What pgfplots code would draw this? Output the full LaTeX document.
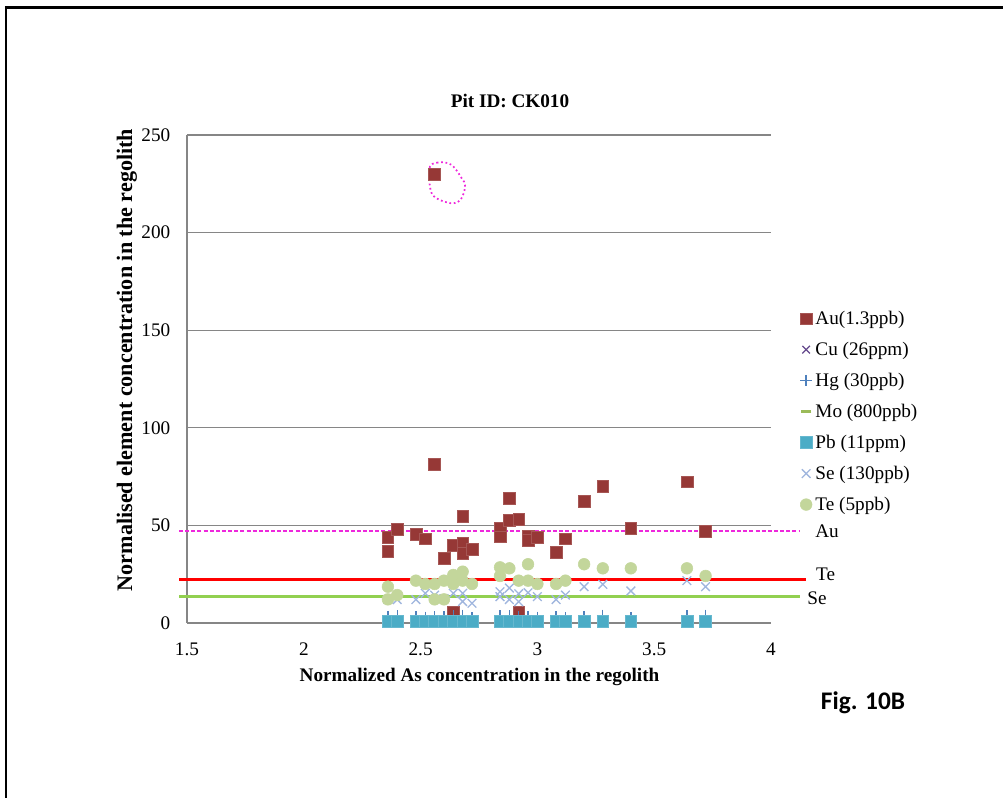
\documentclass[border=0pt]{standalone}
\usepackage{pgfplots}
\pgfplotsset{compat=1.18}
\usepackage{fontspec}
\setmainfont{Liberation Serif}
\newfontfamily\calibri{Carlito}
\definecolor{auc}{RGB}{150,56,54}
\definecolor{cuc}{RGB}{100,72,140}
\definecolor{hgc}{RGB}{79,129,189}
\definecolor{moc}{RGB}{155,187,89}
\definecolor{pbc}{RGB}{75,172,198}
\definecolor{sec}{RGB}{160,182,222}
\definecolor{tec}{RGB}{195,214,155}
\definecolor{gridc}{RGB}{134,134,134}
\definecolor{magc}{RGB}{238,40,220}
\definecolor{greenline}{RGB}{146,208,80}
\newcommand{\fs}{\fontsize{14.4}{17}\selectfont}
\begin{document}
\begin{tikzpicture}
\path[use as bounding box] (-140.25pt,-131.25pt) rectangle (612pt,467.25pt);
\draw[black, line width=2.2pt] (-136.5pt,461.5pt) -- (612pt,461.5pt);
\draw[black, line width=1.5pt] (-135.75pt,462pt) -- (-135.75pt,-131.25pt);
\begin{axis}[
  at={(0pt,0pt)}, anchor=south west, scale only axis,
  width=438pt, height=366pt,
  xmin=1.5, xmax=4, ymin=0, ymax=250,
  xtick={1.5,2,2.5,3,3.5,4}, ytick={0,50,100,150,200,250},
  axis lines*=left,
  axis line style={gridc, line width=1.1pt},
  ymajorgrids, grid style={gridc, line width=0.8pt},
  major tick length=0pt,
  tick label style={font=\fs},
  /pgf/number format/assume math mode=true,
  xticklabel style={yshift=-11pt},
  yticklabel style={xshift=-9pt},
  clip=false,
  legend style={at={(1.0497,0.644)}, anchor=north west, draw=none, fill=none,
    font=\fs, row sep=8.75pt, inner sep=0pt, nodes={inner xsep=2.6pt, inner ysep=1.5pt}},
  legend cell align=left,
  legend image code/.code={\draw[#1] plot coordinates {(0.12cm,0cm)};},
]
% Au
\addplot[only marks, mark=square*, mark size=4.4pt, mark options={fill=auc, draw=auc!85!white}] coordinates {
(2.56,230) (2.56,81.5) (2.36,43.9) (2.36,36.9) (2.40,48) (2.48,45.4) (2.52,43.2)
(2.60,33.1) (2.64,40) (2.64,5.8) (2.68,54.6) (2.68,41.1) (2.68,35.7) (2.72,37.9)
(2.84,48.7) (2.84,44.2) (2.88,63.9) (2.88,52.8) (2.92,53.1) (2.92,5.8) (2.96,44.7)
(2.96,42.5) (3.00,43.9) (3.08,36.2) (3.12,43.2) (3.20,62.3) (3.28,70) (3.40,48.5)
(3.64,72.4) (3.72,47.1)};
\addlegendentry{Au(1.3ppb)}
% Cu
\addplot[only marks, mark=x, mark size=4pt, mark options={draw=cuc, line width=0.9pt}] coordinates {
(2.36,0.5) (2.40,0.5) (2.48,0.5) (2.52,0.5) (2.56,0.5) (2.60,0.5) (2.64,0.5) (2.68,0.5)
(2.72,0.5) (2.84,0.5) (2.88,0.5) (2.92,0.5) (2.96,0.5) (3.00,0.5) (3.08,0.5) (3.12,0.5)
(3.20,0.5) (3.28,0.5) (3.40,0.5) (3.64,0.5) (3.72,0.5)};
\addlegendentry{Cu (26ppm)}
% Hg
\addplot[only marks, mark=+, mark size=4.4pt, mark options={draw=hgc, line width=1pt}] coordinates {
(2.36,3.2) (2.40,3.4) (2.48,3.0) (2.52,2.8) (2.56,3.0) (2.60,3.2) (2.64,3.6) (2.68,3.8)
(2.72,2.5) (2.84,3.4) (2.88,3.6) (2.92,3.0) (2.96,3.2) (3.00,2.8) (3.08,3.0) (3.12,2.6)
(3.20,3.2) (3.28,3.8) (3.40,2.6) (3.64,3.4) (3.72,3.8)};
\addlegendentry{Hg (30ppb)}
% Mo
\addplot[only marks, mark=-, mark size=4pt, mark options={draw=moc, line width=2pt}] coordinates {
(2.36,0.3) (2.40,0.3) (2.48,0.3) (2.52,0.3) (2.56,0.3) (2.60,0.3) (2.64,0.3) (2.68,0.3)
(2.72,0.3) (2.84,0.3) (2.88,0.3) (2.92,0.3) (2.96,0.3) (3.00,0.3) (3.08,0.3) (3.12,0.3)
(3.20,0.3) (3.28,0.3) (3.40,0.3) (3.64,0.3) (3.72,1.2)};
\addlegendentry{Mo (800ppb)}
% Pb
\addplot[only marks, mark=square*, mark size=4.4pt, mark options={fill=pbc, draw=pbc!85!white}] coordinates {
(2.36,0.9) (2.40,0.9) (2.48,0.9) (2.52,0.9) (2.56,0.9) (2.60,0.9) (2.64,0.9) (2.68,0.9)
(2.72,0.9) (2.84,0.9) (2.88,0.9) (2.92,0.9) (2.96,0.9) (3.00,0.9) (3.08,0.9) (3.12,0.9)
(3.20,0.9) (3.28,0.9) (3.40,0.9) (3.64,0.9) (3.72,0.9)};
\addlegendentry{Pb (11ppm)}
% Se
\addplot[only marks, mark=x, mark size=4.6pt, mark options={draw=sec, line width=1pt}] coordinates {
(2.36,12.1) (2.40,12) (2.48,12) (2.52,15.2) (2.56,14.3) (2.60,12.5) (2.64,15.2)
(2.68,15.2) (2.68,11) (2.72,10.1) (2.84,16) (2.84,13.5) (2.88,17.9) (2.88,12)
(2.92,10.9) (2.92,15) (2.96,15.5) (3.00,13.5) (3.08,12) (3.12,14.3) (3.20,18.6)
(3.28,19.8) (3.40,16.4) (3.64,21.7) (3.72,18.6)};
\addlegendentry{Se (130ppb)}
% Te
\addplot[only marks, mark=*, mark size=4.4pt, mark options={fill=tec, draw=tec}] coordinates {
(2.36,18.6) (2.36,12.1) (2.40,14.3) (2.48,21.7) (2.52,20) (2.56,20) (2.56,12.1)
(2.60,21.7) (2.60,12.1) (2.64,24.6) (2.64,20) (2.68,26.3) (2.68,21.7) (2.72,20)
(2.84,28.5) (2.84,24.1) (2.88,28) (2.92,21.7) (2.96,30.1) (2.96,21.7) (3.00,20)
(3.08,20) (3.12,21.7) (3.20,30.1) (3.28,28) (3.40,28) (3.64,28) (3.72,24.1)};
\addlegendentry{Te (5ppb)}
% reference lines
\addplot[forget plot, magc, line width=1.5pt, dash pattern=on 3pt off 1.6pt] coordinates {(1.466,47.3) (4.124,47.3)};
\addplot[forget plot, red, line width=2.4pt] coordinates {(1.466,22.4) (4.15,22.4)};
\addplot[forget plot, greenline, line width=2.2pt] coordinates {(1.466,13.8) (4.124,13.8)};
% annotation blob
\draw[magc, line width=1.3pt, dotted] plot[smooth cycle, tension=0.7] coordinates {
(axis cs:2.540,233.8) (axis cs:2.569,235.8) (axis cs:2.619,235.5) (axis cs:2.647,232.9)
(axis cs:2.676,227.8) (axis cs:2.690,224.4) (axis cs:2.680,218.8) (axis cs:2.655,215.3)
(axis cs:2.612,215.5) (axis cs:2.562,218.1) (axis cs:2.543,221.8) (axis cs:2.537,228.6)};
\end{axis}
\node[font=\fs\bfseries] at (242.25pt,391.5pt) {Pit ID: CK010};
\node[font=\fs\bfseries] at (219.4pt,-40.5pt) {Normalized As concentration in the regolith};
\node[font=\fontsize{16.6}{19}\selectfont\bfseries, rotate=90] at (-45pt,197.25pt) {Normalised element concentration in the regolith};
\node[font=\fs] at (480pt,68.6pt) {Au};
\node[font=\fs] at (479pt,36.75pt) {Te};
\node[font=\fs] at (472.5pt,18.75pt) {Se};
\node[font=\calibri\bfseries\fontsize{19}{22}\selectfont] at (507pt,-60pt) {Fig. 10B};
\end{tikzpicture}
\end{document}
